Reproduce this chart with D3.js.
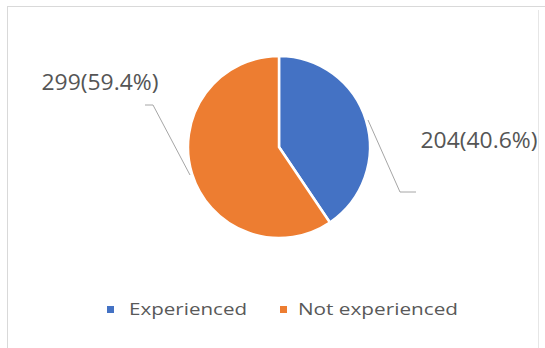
<!DOCTYPE html>
<html><head><meta charset="utf-8">
<script src="https://cdn.jsdelivr.net/npm/d3@7"></script>
<style>html,body{margin:0;padding:0;background:#fff;}svg{display:block;}</style>
</head><body>
<svg id="c" width="545" height="348"></svg>
<script>
const categories = ["Experienced", "Not experienced"];
const counts = [204, 299];
const percents = ["40.6%", "59.4%"];
const colors = ["#4472C4", "#ED7D31"];

const svg = d3.select("#c");
const W = 545, H = 348;
// frame
svg.append("line").attr("x1",7).attr("x2",545).attr("y1",6.5).attr("y2",6.5).attr("stroke","#d9d9d9");
svg.append("line").attr("x1",7.5).attr("x2",7.5).attr("y1",6).attr("y2",H).attr("stroke","#d9d9d9");
svg.append("line").attr("x1",538.5).attr("x2",538.5).attr("y1",10).attr("y2",H).attr("stroke","#e6e6e6");

const cx = 279, cy = 147, r = 91;
const data = categories.map((c,i)=>({cat:c, value:counts[i], pct:percents[i], color:colors[i]}));
const pie = d3.pie().value(d=>d.value).sort(null);
const arcs = pie(data);
const arc = d3.arc().innerRadius(0).outerRadius(r);
const g = svg.append("g").attr("transform",`translate(${cx},${cy})`);
g.selectAll("path").data(arcs).join("path")
  .attr("d",arc).attr("fill",d=>d.data.color)
  .attr("stroke","#fff").attr("stroke-width",2.5);

// leader lines and labels
const labelPos = [
  {tx:479, ty:148, anchor:"middle", pts:[[368,120],[400,192],[416,192]]},
  {tx:100, ty:90, anchor:"middle", pts:[[190,175],[153,105],[145,105]]}
];
arcs.forEach((a,i)=>{
  const lp = labelPos[i];
  svg.append("polyline")
    .attr("points", lp.pts.map(p=>p.join(",")).join(" "))
    .attr("fill","none").attr("stroke","#a6a6a6").attr("stroke-width",1);
  svg.append("text").attr("x",lp.tx).attr("y",lp.ty)
    .attr("text-anchor",lp.anchor)
    .attr("font-family","'Open Sans', sans-serif").attr("font-size",21)
    .attr("fill","#555555")
    .attr("textLength",117).attr("lengthAdjust","spacingAndGlyphs")
    .text(`${a.data.value}(${a.data.pct})`);
});

// legend
const legend = [
  {x:107, tx:129, w:118},
  {x:280, tx:298, w:160}
];
data.forEach((d,i)=>{
  const L = legend[i];
  svg.append("rect").attr("x",L.x).attr("y",306).attr("width",7).attr("height",7).attr("fill",d.color);
  svg.append("text").attr("x",L.tx).attr("y",315)
    .attr("font-family","'Open Sans', sans-serif").attr("font-size",17)
    .attr("fill","#595959")
    .attr("textLength",L.w).attr("lengthAdjust","spacingAndGlyphs")
    .text(d.cat);
});
</script>
</body></html>
